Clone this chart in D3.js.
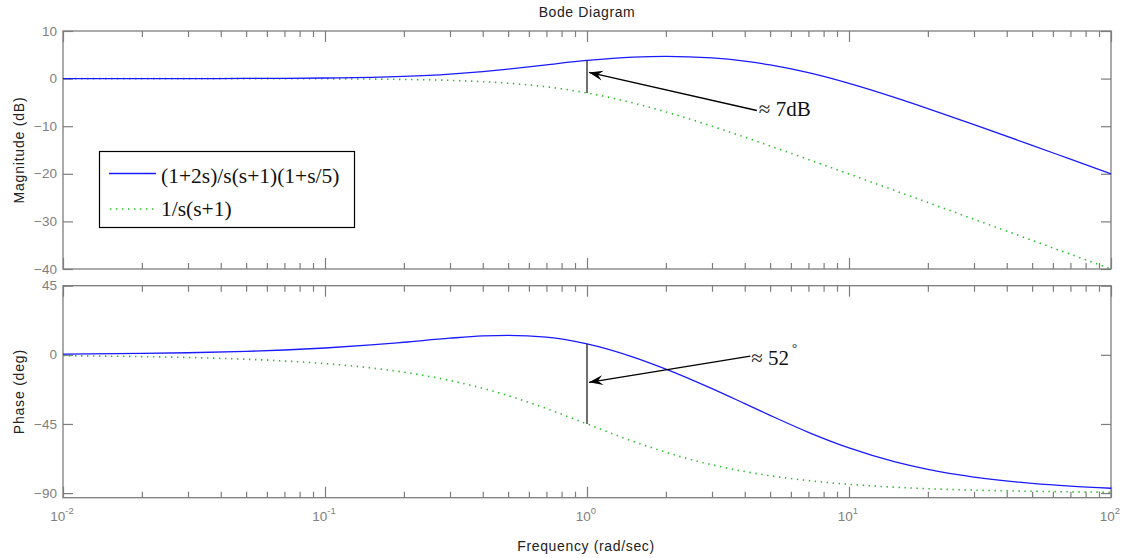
<!DOCTYPE html>
<html>
<head>
<meta charset="utf-8">
<script src="https://cdn.jsdelivr.net/npm/d3@7"></script>
<style>
  html, body { margin: 0; padding: 0; background: #fff; }
  svg { display: block; }
</style>
</head>
<body>
<svg id="chart" width="1124" height="558"></svg>
<script>
// ---------------- data ----------------
const freq       = [0.01,0.02,0.03,0.05,0.07,0.1,0.15,0.2,0.3,0.4,0.5,0.7,1,1.5,2,3,4,5,7,10,15,20,30,50,70,100];
const magLead    = [0.00,0.01,0.01,0.03,0.06,0.13,0.27,0.47,0.95,1.48,2.00,2.90,3.81,4.51,4.67,4.35,3.68,2.88,1.24,-1.00,-3.99,-6.29,-9.66,-14.02,-16.93,-20.01];
const magPlant   = [0.00,0.00,0.00,-0.01,-0.02,-0.04,-0.10,-0.17,-0.37,-0.65,-0.97,-1.73,-3.01,-5.12,-6.99,-10.00,-12.30,-14.15,-16.99,-20.04,-23.54,-26.03,-29.55,-33.98,-36.90,-40.00];
const phaseLead  = [0.46,0.92,1.37,2.28,3.16,4.45,6.45,8.20,10.83,12.29,12.72,11.50,7.12,-1.44,-9.27,-21.99,-31.75,-39.40,-50.42,-60.58,-69.67,-74.53,-79.58,-83.71,-85.50,-86.86];
const phasePlant = [-0.57,-1.15,-1.72,-2.86,-4.00,-5.71,-8.53,-11.31,-16.70,-21.80,-26.57,-34.99,-45.00,-56.31,-63.43,-71.57,-75.96,-78.69,-81.87,-84.29,-86.19,-87.14,-88.09,-88.85,-89.18,-89.43];
const seriesNames = ["(1+2s)/s(s+1)(1+s/5)", "1/s(s+1)"];
const magTicks   = [-40,-30,-20,-10,0,10];
const phaseTicks = [-90,-45,0,45];
const freqDecades = [0.01,0.1,1,10,100];
const titleText = "Bode Diagram";
const magLabel = "Magnitude (dB)";
const phaseLabel = "Phase (deg)";
const freqLabel = "Frequency (rad/sec)";
// annotation anchors in data units
const magNote   = { freq: 1, tip: 1.3, tailFreq: 4.45, tailVal: -6.7, text: "\u2248 7dB" };
const phaseNote = { freq: 1, tip: -17.9, tailFreq: 4.2, tailVal: -0.8, text: "\u2248 52" };

// ---------------- layout ----------------
const svg = d3.select("#chart");
const L = 63, R = 1111;
const magTop = 31, magBot = 269, phTop = 285.7, phBot = 497.7;

const x = d3.scaleLog().domain([0.01, 100]).range([L, R]);
const yMag = d3.scaleLinear().domain([-40, 10]).range([magBot, magTop]);
const yPh = d3.scaleLinear().domain([-93, 45]).range([phBot, phTop]);

const axisColor = "#7d7d7d";
const sans = "'Liberation Sans', Arial, sans-serif";
const serif = "'Liberation Serif', 'Times New Roman', serif";
const allFreqTicks = x.ticks();
const isDecade = d => Math.abs(Math.log10(d) - Math.round(Math.log10(d))) < 1e-9;

function drawPanel(y, top, bot, yTicks, showXLabels) {
  const g = svg.append("g");
  // frame
  g.append("rect").attr("x", L).attr("y", top).attr("width", R - L).attr("height", bot - top)
    .attr("fill", "none").attr("stroke", axisColor).attr("stroke-width", 1.3);

  // left axis with labels
  const la = g.append("g").attr("transform", `translate(${L},0)`)
    .call(d3.axisLeft(y).tickValues(yTicks).tickSize(-10).tickPadding(6).tickFormat(d3.format("d")));
  // right axis ticks
  const ra = g.append("g").attr("transform", `translate(${R},0)`)
    .call(d3.axisRight(y).tickValues(yTicks).tickSize(-10).tickFormat(""));
  // top x ticks
  const ta = g.append("g").attr("transform", `translate(0,${top})`)
    .call(d3.axisTop(x).tickValues(allFreqTicks).tickSize(-6).tickFormat(""));
  // bottom x ticks
  const ba = g.append("g").attr("transform", `translate(0,${bot})`)
    .call(d3.axisBottom(x).tickValues(allFreqTicks).tickSize(-6).tickPadding(20).tickFormat(""));

  [ta, ba].forEach(a => {
    a.selectAll(".tick line").filter(d => isDecade(d)).attr(a === ta ? "y2" : "y2", a === ta ? 11 : -11);
  });
  [la, ra, ta, ba].forEach(a => {
    a.select(".domain").remove();
    a.selectAll(".tick line").attr("stroke", axisColor).attr("stroke-width", 1.2);
  });
  la.selectAll(".tick text").attr("fill", "#808080").attr("font-family", sans).attr("font-size", 13.5)
    .attr("dy", "0.3em");

  if (showXLabels) {
    const lab = g.append("g");
    freqDecades.forEach(d => {
      const t = lab.append("text").attr("x", x(d) - 1).attr("y", bot + 23)
        .attr("text-anchor", "middle").attr("fill", "#808080")
        .attr("font-family", sans).attr("font-size", 13.5);
      t.append("tspan").text("10");
      t.append("tspan").attr("dy", -7).attr("font-size", 9.5).text(String(Math.round(Math.log10(d))));
    });
  }
  return g;
}

drawPanel(yMag, magTop, magBot, magTicks, false);
drawPanel(yPh, phTop, phBot, phaseTicks, true);

// ---------------- curves ----------------
function drawLine(yScale, values, color, dashed) {
  const pts = freq.map((f, i) => [f, values[i]]);
  const line = d3.line().x(d => x(d[0])).y(d => yScale(d[1])).curve(d3.curveMonotoneX);
  const p = svg.append("path").datum(pts).attr("d", line).attr("fill", "none")
    .attr("stroke", color);
  if (dashed) {
    p.attr("stroke-width", 1.6).attr("stroke-dasharray", "1.4,4.6");
  } else {
    p.attr("stroke-width", 1.3);
  }
}
drawLine(yMag, magPlant, "#22c022", true);
drawLine(yMag, magLead, "#1a1aff", false);
drawLine(yPh, phasePlant, "#22c022", true);
drawLine(yPh, phaseLead, "#1a1aff", false);

// ---------------- annotations ----------------
function arrow(x1, y1, x2, y2) {
  // tip at (x1,y1), tail at (x2,y2)
  svg.append("line").attr("x1", x1).attr("y1", y1).attr("x2", x2).attr("y2", y2)
    .attr("stroke", "#000").attr("stroke-width", 1.3);
  const dx = x2 - x1, dy = y2 - y1, len = Math.hypot(dx, dy);
  const ux = dx / len, uy = dy / len, px = -uy, py = ux;
  const pts = [
    [x1, y1],
    [x1 + 14 * ux + 5 * px, y1 + 14 * uy + 5 * py],
    [x1 + 9 * ux, y1 + 9 * uy],
    [x1 + 14 * ux - 5 * px, y1 + 14 * uy - 5 * py]
  ];
  svg.append("path").attr("d", "M" + pts.map(p => p.join(",")).join("L") + "Z").attr("fill", "#000");
}
const i1 = freq.indexOf(1);
// magnitude gap marker
svg.append("line").attr("x1", x(magNote.freq)).attr("x2", x(magNote.freq))
  .attr("y1", yMag(magLead[i1])).attr("y2", yMag(magPlant[i1]))
  .attr("stroke", "#222").attr("stroke-width", 1.3);
arrow(x(magNote.freq) + 2, yMag(magNote.tip), x(magNote.tailFreq), yMag(magNote.tailVal));
svg.append("text").attr("x", x(magNote.tailFreq) + 2).attr("y", yMag(magNote.tailVal) + 6)
  .attr("font-family", serif).attr("font-size", 21).attr("fill", "#111").text(magNote.text);

// phase gap marker
svg.append("line").attr("x1", x(phaseNote.freq)).attr("x2", x(phaseNote.freq))
  .attr("y1", yPh(phaseLead[i1])).attr("y2", yPh(phasePlant[i1]))
  .attr("stroke", "#222").attr("stroke-width", 1.3);
arrow(x(phaseNote.freq) + 2, yPh(phaseNote.tip), x(phaseNote.tailFreq), yPh(phaseNote.tailVal));
const pt = svg.append("text").attr("x", x(phaseNote.tailFreq) + 1).attr("y", yPh(phaseNote.tailVal) + 9)
  .attr("font-family", serif).attr("font-size", 21).attr("fill", "#111");
pt.append("tspan").text(phaseNote.text);
pt.append("tspan").attr("dx", 3).attr("dy", -13).attr("font-size", 13).text("\u00B0");

// ---------------- legend ----------------
const lg = svg.append("g");
lg.append("rect").attr("x", 99.5).attr("y", 151.5).attr("width", 255).attr("height", 76)
  .attr("fill", "#fff").attr("stroke", "#000").attr("stroke-width", 1.2);
lg.append("line").attr("x1", 109).attr("x2", 156).attr("y1", 173.5).attr("y2", 173.5)
  .attr("stroke", "#1a1aff").attr("stroke-width", 1.3);
lg.append("line").attr("x1", 110).attr("x2", 156).attr("y1", 209).attr("y2", 209)
  .attr("stroke", "#22c022").attr("stroke-width", 1.6).attr("stroke-dasharray", "1.4,4.6");
lg.append("text").attr("x", 161).attr("y", 182.5).attr("font-family", serif).attr("font-size", 21.5)
  .attr("fill", "#111").text(seriesNames[0]);
lg.append("text").attr("x", 161).attr("y", 216).attr("font-family", serif).attr("font-size", 21.5)
  .attr("fill", "#111").text(seriesNames[1]);

// ---------------- titles ----------------
svg.append("text").attr("x", 587).attr("y", 17).attr("text-anchor", "middle")
  .attr("font-family", sans).attr("font-size", 14).attr("letter-spacing", 0.6)
  .attr("fill", "#222").text(titleText);
svg.append("text").attr("x", 586).attr("y", 551).attr("text-anchor", "middle")
  .attr("font-family", sans).attr("font-size", 14).attr("letter-spacing", 0.65)
  .attr("fill", "#222").text(freqLabel);
svg.append("text").attr("transform", `translate(24,${(magTop + magBot) / 2}) rotate(-90)`)
  .attr("text-anchor", "middle").attr("font-family", sans).attr("font-size", 14)
  .attr("letter-spacing", 0.8).attr("fill", "#222").text(magLabel);
svg.append("text").attr("transform", `translate(24,${(phTop + phBot) / 2}) rotate(-90)`)
  .attr("text-anchor", "middle").attr("font-family", sans).attr("font-size", 14)
  .attr("letter-spacing", 0.8).attr("fill", "#222").text(phaseLabel);
</script>
</body>
</html>
